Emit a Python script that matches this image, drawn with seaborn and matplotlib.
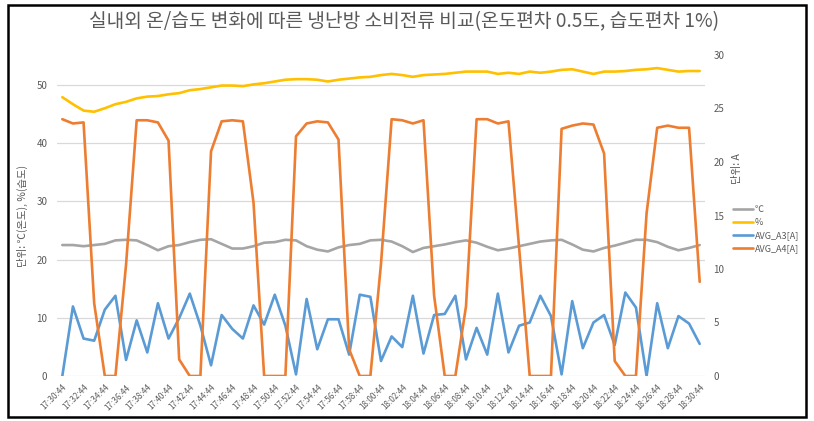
import pandas as pd
import numpy as np
import matplotlib
matplotlib.use('Agg')
import matplotlib.pyplot as plt
import seaborn as sns
from matplotlib.patches import Rectangle

# Data (one sample per minute, 17:30:44 .. 18:30:44)
times = pd.date_range('2020-01-01 17:30:44', periods=61, freq='min').strftime('%H:%M:%S').tolist()

temp_c = [22.5, 22.5, 22.3, 22.5, 22.7, 23.3, 23.4, 23.3, 22.5, 21.6,
          22.3, 22.5, 23.0, 23.4, 23.5, 22.7, 21.9, 21.9, 22.3, 22.9,
          23.0, 23.4, 23.3, 22.3, 21.7, 21.4, 22.1, 22.5, 22.7, 23.3,
          23.4, 23.1, 22.3, 21.3, 22.0, 22.3, 22.6, 23.0, 23.3, 22.9,
          22.2, 21.6, 21.9, 22.3, 22.7, 23.1, 23.3, 23.4, 22.6, 21.7,
          21.4, 22.0, 22.4, 22.9, 23.4, 23.4, 23.0, 22.2, 21.6, 22.0, 22.5]

humidity = [47.9, 46.7, 45.6, 45.4, 46.0, 46.7, 47.1, 47.7, 48.0, 48.1,
            48.4, 48.6, 49.1, 49.3, 49.6, 49.9, 49.9, 49.8, 50.1, 50.3,
            50.6, 50.9, 51.0, 51.0, 50.9, 50.6, 50.9, 51.1, 51.3, 51.4,
            51.7, 51.9, 51.7, 51.4, 51.7, 51.8, 51.9, 52.1, 52.3, 52.3,
            52.3, 51.9, 52.1, 51.9, 52.3, 52.1, 52.3, 52.6, 52.7, 52.3,
            51.9, 52.3, 52.3, 52.4, 52.6, 52.7, 52.9, 52.6, 52.3, 52.4, 52.4]

avg_a3 = [0.0, 6.5, 3.5, 3.3, 6.2, 7.5, 1.5, 5.2, 2.2, 6.8,
          3.5, 5.4, 7.7, 4.7, 1.0, 5.7, 4.4, 3.5, 6.6, 4.8,
          7.6, 4.7, 0.15, 7.2, 2.5, 5.3, 5.3, 2.0, 7.6, 7.4,
          1.4, 3.7, 2.7, 7.5, 2.1, 5.7, 5.8, 7.5, 1.55, 4.5,
          2.0, 7.7, 2.2, 4.7, 5.0, 7.5, 5.6, 0.15, 7.0, 2.6,
          5.0, 5.7, 2.9, 7.8, 6.4, 0.0, 6.8, 2.6, 5.6, 4.9, 3.0]

avg_a4 = [24.0, 23.6, 23.7, 6.8, 0.0, 0.0, 10.4, 23.9, 23.9, 23.7,
          22.0, 1.55, 0.0, 0.0, 21.0, 23.8, 23.9, 23.8, 16.2, 0.0,
          0.0, 0.0, 22.4, 23.6, 23.8, 23.7, 22.1, 2.5, 0.0, 0.0,
          10.5, 24.0, 23.9, 23.6, 23.9, 7.5, 0.0, 0.0, 6.5, 24.0,
          24.0, 23.6, 23.8, 12.0, 0.0, 0.0, 0.0, 23.1, 23.4, 23.6,
          23.5, 20.8, 1.4, 0.0, 0.0, 15.2, 23.2, 23.4, 23.2, 23.2, 8.8]

series_names = ['℃', '%', 'AVG_A3[A]', 'AVG_A4[A]']
colors = ['#A5A5A5', '#FFC000', '#5B9BD5', '#ED7D31']

sns.set_style('white')
plt.rcParams['font.family'] = ['Noto Sans CJK KR', 'DejaVu Sans']
plt.rcParams['axes.unicode_minus'] = False

text_color = '#595959'
fig = plt.figure(figsize=(8.14, 4.21), dpi=100)
ax = fig.add_axes([57 / 814, 1 - 376 / 421, 648 / 814, 321 / 421])
ax2 = ax.twinx()

x = np.arange(len(times))
sns.lineplot(x=x, y=temp_c, ax=ax, color=colors[0], linewidth=1.9, label=series_names[0], legend=False)
sns.lineplot(x=x, y=humidity, ax=ax, color=colors[1], linewidth=1.9, label=series_names[1], legend=False)
sns.lineplot(x=x, y=avg_a3, ax=ax2, color=colors[2], linewidth=1.9, label=series_names[2], legend=False)
sns.lineplot(x=x, y=avg_a4, ax=ax2, color=colors[3], linewidth=1.9, label=series_names[3], legend=False)

ax.set_xlim(-0.5, len(times) - 0.5)
ax.set_ylim(0, 55.15)
ax.set_yticks(range(0, 51, 10))
ax2.set_ylim(0, 30)
ax2.set_yticks(range(0, 31, 5))

ax.set_xticks(x[::2])
ax.set_xticklabels(times[::2], rotation=45, ha='right', va='top', rotation_mode='anchor',
                   fontsize=5.8, color=text_color)
ax.tick_params(axis='x', length=0, pad=5)
ax.tick_params(axis='y', length=0, labelsize=7, labelcolor=text_color, pad=7)
ax2.tick_params(axis='y', length=0, labelsize=7, labelcolor=text_color, pad=6)

ax.grid(axis='y', color='#D9D9D9', linewidth=0.9)
ax.set_axisbelow(True)
for a in (ax, ax2):
    for s in a.spines.values():
        s.set_visible(False)

ax.set_ylabel('단위: ℃(온도), %(습도)', fontsize=7.5, color=text_color)
ax.yaxis.set_label_coords((28 - 57) / 648, 0.5)
fig.text(737 / 814, 1 - 169 / 421, '단위: A', rotation=90, ha='center', va='center',
         fontsize=7.5, color=text_color)

fig.text(404 / 814, 1 - 22 / 421, '실내외 온/습도 변화에 따른 냉난방 소비전류 비교(온도편차 0.5도, 습도편차 1%)',
         ha='center', va='center', fontsize=13.8, color=text_color)

h1, l1 = ax.get_legend_handles_labels()
h2, l2 = ax2.get_legend_handles_labels()
fig.legend(h1 + h2, l1 + l2, loc='upper left', bbox_to_anchor=(727 / 814, 1 - 199 / 421),
           frameon=False, fontsize=6.5, handlelength=2.2, handletextpad=0.2,
           labelspacing=0.45, labelcolor=text_color, borderaxespad=0.3)

fig.patches.append(Rectangle((8 / 814, 4 / 421), 798 / 814, 412 / 421, transform=fig.transFigure,
                             fill=False, edgecolor='black', linewidth=1.8))

fig.savefig('out.png', dpi=100)
